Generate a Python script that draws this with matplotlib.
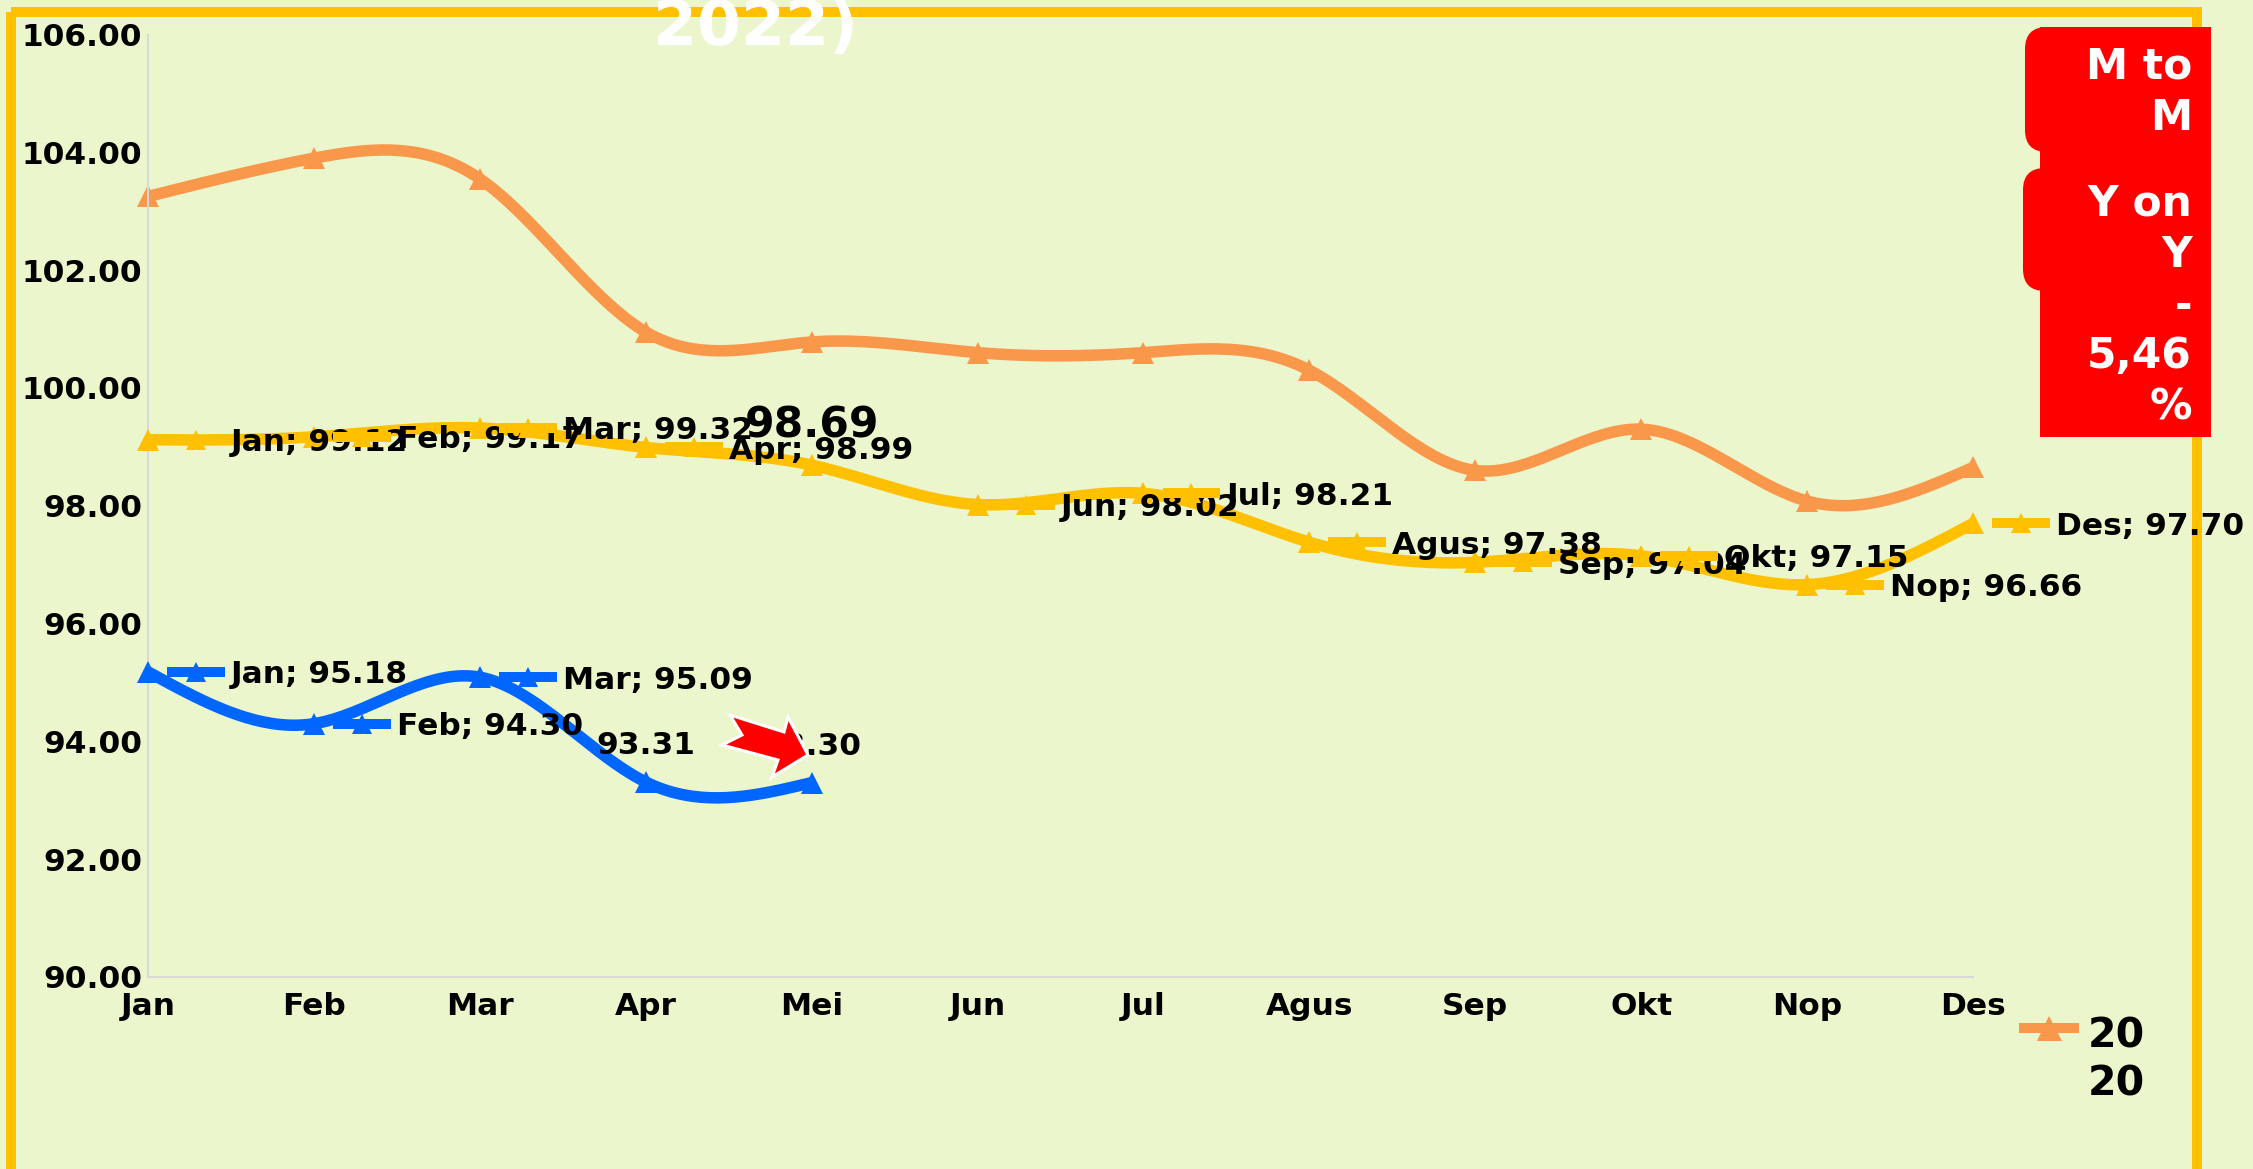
import numpy as np
import matplotlib
matplotlib.use("Agg")
import matplotlib.pyplot as plt
from matplotlib.patches import FancyBboxPatch, Polygon, Rectangle

plt.rcParams['font.family'] = 'DejaVu Sans'
plt.rcParams['font.weight'] = 'bold'

W, H = 2253, 1169

months = ["Jan", "Feb", "Mar", "Apr", "Mei", "Jun", "Jul", "Agus", "Sep", "Okt", "Nop", "Des"]
y_ticks = [90, 92, 94, 96, 98, 100, 102, 104, 106]

values_2020 = [103.25, 103.90, 103.55, 100.95, 100.78, 100.60, 100.60, 100.30, 98.60, 99.30, 98.08, 98.65]
values_2021 = [99.12, 99.17, 99.32, 98.99, 98.69, 98.02, 98.21, 97.38, 97.04, 97.15, 96.66, 97.70]
values_2022 = [95.18, 94.30, 95.09, 93.31, 93.30]

BG = "#EBF6CD"
GOLD = "#FFC000"
ORANGE = "#F9974B"
BLUE = "#0066FF"
RED = "#FF0000"
GREY = "#D9D9D9"

LABEL_SIZE = 22.5
# offsets in data units (one month, one index point)
KEY_X = (0.115, 0.464)
TEXT_X = 0.50
TEXT_DROP = 0.05
ABOVE = 0.62
ABOVE_BIG = 0.68


def smooth(vals, n=40):
    """Natural cubic spline through the values, month spacing 1."""
    y = np.array(vals, dtype=float)
    m = len(y)
    A = np.zeros((m, m))
    b = np.zeros(m)
    A[0, 0] = A[-1, -1] = 1
    for i in range(1, m - 1):
        A[i, i - 1], A[i, i], A[i, i + 1] = 1, 4, 1
        b[i] = 6 * (y[i - 1] - 2 * y[i] + y[i + 1])
    s = np.linalg.solve(A, b)
    xs, ys = [], []
    for i in range(m - 1):
        t = np.linspace(0, 1, n)
        ys.append((1 - t) * y[i] + t * y[i + 1]
                  + ((1 - t) ** 3 - (1 - t)) * s[i] / 6 + (t ** 3 - t) * s[i + 1] / 6)
        xs.append(i + t)
    return np.concatenate(xs), np.concatenate(ys)


def draw_series(ax, vals, color, z):
    xs, ys = smooth(vals)
    ax.plot(xs, ys, color=color, lw=8.3, solid_capstyle='butt', zorder=z, clip_on=False)
    ax.plot(range(len(vals)), vals, ls='none', marker='^', ms=16, mew=0, color=color,
            zorder=z, clip_on=False)


def keyed_label(ax, i, v, color, z):
    # small legend key followed by "Month; value"
    ax.plot([i + KEY_X[0], i + KEY_X[1]], [v, v], color=color, lw=7.2, solid_capstyle='butt',
            zorder=z, clip_on=False)
    ax.plot([i + sum(KEY_X) / 2], [v], ls='none', marker='^', ms=15, mew=0, color=color,
            zorder=z, clip_on=False)
    ax.text(i + TEXT_X, v - TEXT_DROP, f"{months[i]}; {v:.2f}", fontsize=LABEL_SIZE, va='center',
            ha='left', color='black', zorder=z + 0.5, clip_on=False)


fig = plt.figure(figsize=(W / 100, H / 100), dpi=100, facecolor=BG)

# frame sits behind everything
back = fig.add_axes([0, 0, 1, 1], zorder=-1)
back.set_xlim(0, W)
back.set_ylim(H, 0)
back.axis('off')
back.add_patch(Rectangle((10.5, 12), 2186.5, 1160, fill=False, ec=GOLD, lw=7.2))
back.text(755, 45, "2022)", color='white', fontsize=45.5, ha='center', va='baseline')

# plot area
ax = fig.add_axes([148 / W, 1 - 977 / H, (1973 - 148) / W, (977 - 34.5) / H], zorder=1)
ax.patch.set_alpha(0)
ax.set_xlim(0, 11)
ax.set_ylim(90, 106)
for side in ['top', 'right']:
    ax.spines[side].set_visible(False)
for side in ['left', 'bottom']:
    ax.spines[side].set_color(GREY)
    ax.spines[side].set_linewidth(1.5)
ax.set_xticks(range(12))
ax.set_xticklabels(months, fontsize=LABEL_SIZE)
ax.set_yticks(y_ticks)
ax.set_yticklabels([f"{t:.2f}" for t in y_ticks], fontsize=LABEL_SIZE)
ax.tick_params(axis='y', length=0, pad=4)
ax.tick_params(axis='x', length=0, pad=11)

draw_series(ax, values_2020, ORANGE, 2)
draw_series(ax, values_2021, GOLD, 3)
draw_series(ax, values_2022, BLUE, 4)

# data labels are drawn in order, later keys cover earlier text
z = 5
for i, v in enumerate(values_2021):
    if months[i] == "Mei":
        ax.text(i, v + ABOVE_BIG, f"{v:.2f}", fontsize=30.5, ha='center', va='center', zorder=z)
    else:
        keyed_label(ax, i, v, GOLD, z)
    z += 1
for i, v in enumerate(values_2022):
    if i < 3:
        keyed_label(ax, i, v, BLUE, z)
    else:
        ax.text(i, v + ABOVE, f"{v:.2f}", fontsize=LABEL_SIZE, ha='center', va='center', zorder=z)
    z += 1

# overlay in pixel coordinates: red notes, arrow, legend
top = fig.add_axes([0, 0, 1, 1], zorder=2)
top.set_xlim(0, W)
top.set_ylim(H, 0)
top.axis('off')
top.patch.set_alpha(0)

top.add_patch(Rectangle((2040, 27), 171, 410, fc=RED, ec='none'))
for x0, y0, x1, y1 in [(2025, 27, 2211, 152), (2023, 168, 2211, 291)]:
    top.add_patch(FancyBboxPatch((x0 + 18, y0 + 18), x1 - x0 - 36, y1 - y0 - 36,
                                 boxstyle="round,pad=18,rounding_size=22", fc=RED, ec='none'))

note_lines = ["M to", "M", "Y on", "Y", "-", "5,46", "%"]
note_baselines = [78.5, 130, 215.5, 267, 318, 368.5, 420]
for line, y in zip(note_lines, note_baselines):
    top.text(2192, y, line, color='white', fontsize=30.5, ha='right', va='baseline')

arrow_px = [(730, 715), (784, 732), (788, 717), (808, 755), (772, 777), (778, 760), (722, 745), (742, 735)]
top.add_patch(Polygon(arrow_px, closed=True, fc=RED, ec='white', lw=2.2, joinstyle='miter'))

# legend, only the 2020 entry fits
top.plot([2019, 2079], [1028, 1028], color=ORANGE, lw=7.2, solid_capstyle='butt')
top.plot([2049], [1028], ls='none', marker='^', ms=18, mew=0, color=ORANGE)
top.text(2088, 1047, "20", fontsize=29.5, ha='left', va='baseline')
top.text(2088, 1096, "20", fontsize=29.5, ha='left', va='baseline')

fig.savefig("out.png", dpi=100, facecolor=BG)
